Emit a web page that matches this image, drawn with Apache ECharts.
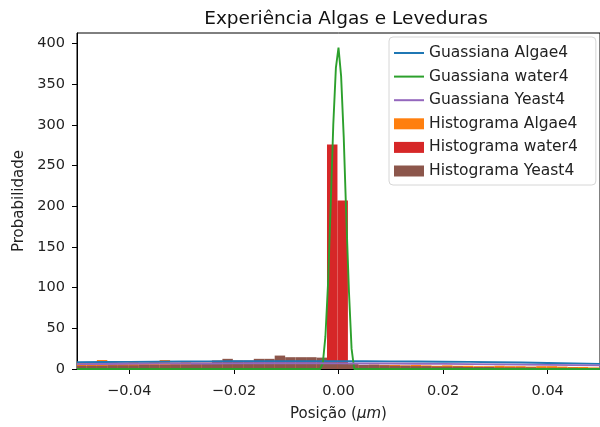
<!DOCTYPE html>
<html>
<head>
<meta charset="utf-8">
<script src="https://cdn.jsdelivr.net/npm/echarts@6/dist/echarts.min.js"></script>
<style>
  html, body { margin: 0; padding: 0; background: #fff; }
  #chart { width: 600px; height: 427px; }
</style>
</head>
<body>
<div id="chart"></div>
<script>
// Histogram bins (left edges, µm) shared by the three samples
const binLeft = [
  -0.0502, -0.0482, -0.0462, -0.0442, -0.0422, -0.0402, -0.0382, -0.0362, -0.0342, -0.0322,
  -0.0302, -0.0282, -0.0262, -0.0242, -0.0222, -0.0202, -0.0182, -0.0162, -0.0142, -0.0122,
  -0.0102, -0.0082, -0.0062, -0.0042, -0.0022, -0.0002, 0.0018, 0.0038, 0.0058, 0.0078,
  0.0098, 0.0118, 0.0138, 0.0158, 0.0178, 0.0198, 0.0218, 0.0238, 0.0258, 0.0278,
  0.0298, 0.0318, 0.0338, 0.0358, 0.0378, 0.0398, 0.0418, 0.0438, 0.0458, 0.0478
];
const binWidth = 0.002;

// Histogram densities per bin
const histAlgae4 = [
  8, 8, 11, 8.5, 8, 8.5, 8, 8.5, 11, 8,
  8.5, 8, 8, 8, 7.5, 8, 7.5, 8, 7, 7.5,
  7, 7, 6.5, 7, 6.5, 6, 5.5, 5, 5.5, 5,
  5, 4.5, 5, 4.5, 4, 4.5, 4, 4, 3.5, 3.5,
  4, 3.5, 3.5, 3, 3.5, 3.5, 3, 2.5, 2.5, 2
];
const histWater4 = [
  0, 0, 0, 0, 0, 0, 0, 0, 0, 0,
  0, 0, 0, 0, 0, 0, 0, 0, 0, 0,
  0, 0, 0, 0, 276, 207, 0, 0, 0, 0,
  0, 0, 0, 0, 0, 0, 0, 0, 0, 0,
  0, 0, 0, 0, 0, 0, 0, 0, 0, 0
];
const histYeast4 = [
  4, 4, 4, 4.5, 4.5, 4.5, 5, 5, 5, 5.5,
  5.5, 6, 6.5, 10.5, 12.5, 10.5, 10.5, 12.5, 12.5, 16.5,
  14.5, 14.5, 14.5, 14, 10, 8, 6, 5, 5, 4.5,
  4, 4, 3.5, 3.5, 3, 3, 3, 2.5, 2.5, 2.5,
  2, 2, 2, 2, 1.5, 1.5, 1.5, 1.5, 1, 1
];

// Fitted gaussian curves: [position, density]
const gaussAlgae4 = [
  [-0.05, 8.3], [-0.045, 8.6], [-0.04, 8.8], [-0.035, 9.0], [-0.03, 9.2], [-0.025, 9.4],
  [-0.02, 9.5], [-0.015, 9.6], [-0.01, 9.6], [-0.005, 9.6], [0, 9.6], [0.005, 9.5],
  [0.01, 9.4], [0.015, 9.2], [0.02, 9.0], [0.025, 8.7], [0.03, 8.3], [0.035, 7.9],
  [0.04, 7.4], [0.045, 6.9], [0.05, 6.3]
];
const gaussWater4 = [
  [-0.05, 0], [-0.04, 0], [-0.03, 0], [-0.02, 0], [-0.01, 0], [-0.0035, 0],
  [-0.003, 7], [-0.0025, 40], [-0.002, 105], [-0.0015, 200], [-0.001, 300], [-0.0005, 370],
  [0, 395], [0.0005, 360], [0.001, 285], [0.0015, 185], [0.002, 95], [0.0025, 25],
  [0.003, 0], [0.01, 0], [0.02, 0], [0.03, 0], [0.04, 0], [0.05, 0]
];
const gaussYeast4 = [
  [-0.05, 6.0], [-0.045, 6.2], [-0.04, 6.4], [-0.035, 6.6], [-0.03, 6.7], [-0.025, 6.8],
  [-0.02, 6.9], [-0.015, 7.0], [-0.01, 7.0], [-0.005, 7.0], [0, 6.9], [0.005, 6.8],
  [0.01, 6.7], [0.015, 6.5], [0.02, 6.3], [0.025, 6.0], [0.03, 5.7], [0.035, 5.4],
  [0.04, 5.1], [0.045, 4.8], [0.05, 4.4]
];

// Axis ticks
const xTicks = [-0.04, -0.02, 0, 0.02, 0.04];
const yTicks = [0, 50, 100, 150, 200, 250, 300, 350, 400];

const FONT = 'DejaVu Sans';
const TEXT = '#222';

function histData(heights) {
  const out = [];
  heights.forEach((h, i) => {
    if (h > 0) out.push([binLeft[i], binLeft[i] + binWidth, h]);
  });
  return out;
}

function histSeries(name, heights, color) {
  return {
    name: name,
    type: 'custom',
    clip: true,
    z: 2,
    itemStyle: { color: color },
    encode: { x: [0, 1], y: 2 },
    data: histData(heights),
    renderItem: function (params, api) {
      const topLeft = api.coord([api.value(0), api.value(2)]);
      const bottomRight = api.coord([api.value(1), 0]);
      return {
        type: 'rect',
        shape: {
          x: topLeft[0],
          y: topLeft[1],
          width: bottomRight[0] - topLeft[0],
          height: bottomRight[1] - topLeft[1]
        },
        style: { fill: color }
      };
    }
  };
}

function curveSeries(name, points, color) {
  return {
    name: name,
    type: 'line',
    data: points,
    symbol: 'none',
    showSymbol: false,
    clip: true,
    z: 3,
    color: color,
    lineStyle: { color: color, width: 1.9 }
  };
}

function fmtX(v) {
  if (Math.abs(v) < 1e-12) return '0.00';
  return (v < 0 ? '\u2212' : '') + Math.abs(v).toFixed(2);
}

// legend entries for the curves show only the line stroke
const lineEntry = name => ({ name: name, itemStyle: { opacity: 0 } });

const chart = echarts.init(document.getElementById('chart'), null, { renderer: 'canvas' });

chart.setOption({
  backgroundColor: '#ffffff',
  animation: false,
  title: {
    text: 'Experiência Algas e Leveduras',
    left: 341,
    top: 5,
    textAlign: 'center',
    textStyle: { fontFamily: FONT, fontSize: 18.5, fontWeight: 'normal', color: '#111' }
  },
  grid: {
    left: 77, top: 33, width: 528, height: 340,
    show: true, borderColor: '#000', borderWidth: 1, backgroundColor: 'transparent'
  },
  legend: {
    orient: 'vertical',
    left: 389,
    top: 37,
    padding: [8, 18, 6, 4],
    itemWidth: 30,
    itemHeight: 11,
    itemGap: 7.6,
    itemStyle: { borderWidth: 0 },
    backgroundColor: 'rgba(255,255,255,0.85)',
    borderColor: '#d6d6d6',
    borderWidth: 1,
    borderRadius: 4,
    textStyle: { fontFamily: FONT, fontSize: 15.5, color: TEXT },
    data: [
      lineEntry('Guassiana Algae4'),
      lineEntry('Guassiana water4'),
      lineEntry('Guassiana Yeast4'),
      { name: 'Histograma Algae4', icon: 'rect' },
      { name: 'Histograma water4', icon: 'rect' },
      { name: 'Histograma Yeast4', icon: 'rect' }
    ]
  },
  xAxis: {
    type: 'value',
    min: -0.05,
    max: 0.05,
    name: 'Posição ({i|μm})',
    nameLocation: 'middle',
    nameGap: 38,
    nameTextStyle: {
      fontFamily: FONT, fontSize: 15, color: TEXT,
      rich: { i: { fontFamily: FONT, fontSize: 15, fontStyle: 'italic', color: TEXT } }
    },
    axisLine: { show: true, onZero: false, lineStyle: { color: '#000', width: 1 } },
    axisTick: { show: true, inside: false, length: 5, customValues: xTicks, lineStyle: { color: '#000', width: 1 } },
    axisLabel: { customValues: xTicks, formatter: fmtX, fontFamily: FONT, fontSize: 14.5, color: TEXT, margin: 15 },
    splitLine: { show: false }
  },
  yAxis: {
    type: 'value',
    min: 0,
    max: 413,
    name: 'Probabilidade',
    nameLocation: 'middle',
    nameGap: 46,
    nameTextStyle: { fontFamily: FONT, fontSize: 15, color: TEXT },
    axisLine: { show: true, onZero: false, lineStyle: { color: '#000', width: 1 } },
    axisTick: { show: true, inside: false, length: 5, customValues: yTicks, lineStyle: { color: '#000', width: 1 } },
    axisLabel: { customValues: yTicks, fontFamily: FONT, fontSize: 14.5, color: TEXT, margin: 12 },
    splitLine: { show: false }
  },
  series: [
    histSeries('Histograma Algae4', histAlgae4, '#ff7f0e'),
    histSeries('Histograma water4', histWater4, '#d62728'),
    histSeries('Histograma Yeast4', histYeast4, '#8c564b'),
    curveSeries('Guassiana Algae4', gaussAlgae4, '#1f77b4'),
    curveSeries('Guassiana water4', gaussWater4, '#2ca02c'),
    curveSeries('Guassiana Yeast4', gaussYeast4, '#9467bd')
  ]
});
</script>
</body>
</html>
